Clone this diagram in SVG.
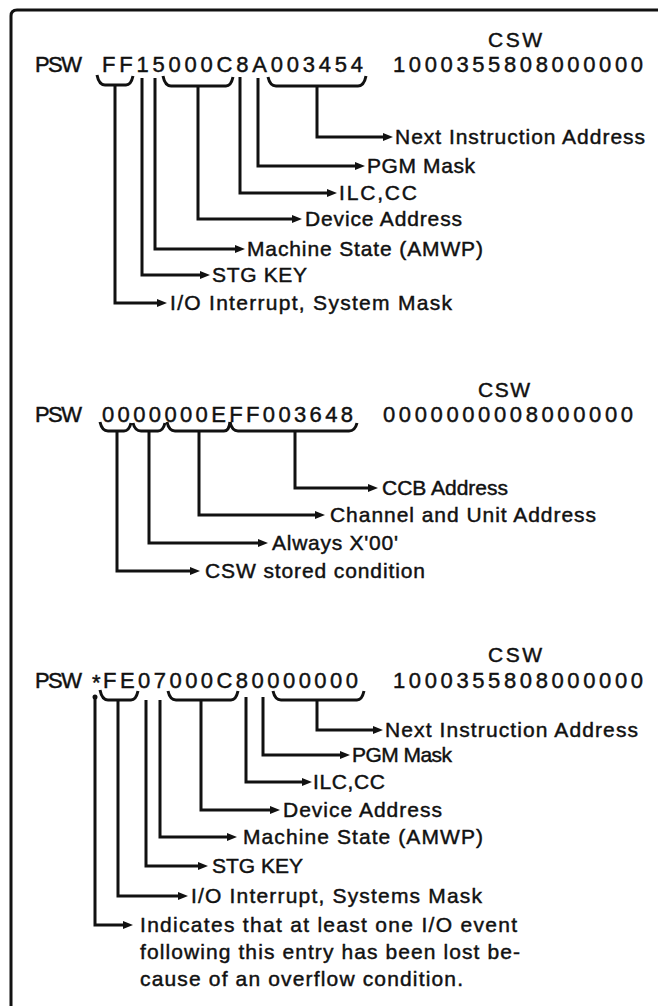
<svg xmlns="http://www.w3.org/2000/svg" width="658" height="1006" viewBox="0 0 658 1006">
<style>
text{font-family:"Liberation Sans",Arial,sans-serif;fill:#111;stroke:#111;stroke-width:0.45}
.hex{font-size:22px}
.lbl{font-size:21px}
.ln{fill:none;stroke:#111;stroke-width:3;stroke-linejoin:miter;stroke-linecap:butt}
.arr{marker-end:url(#ah)}
</style>
<defs>
<marker id="ah" markerUnits="userSpaceOnUse" markerWidth="12" markerHeight="10" viewBox="0 -5 12 10" refX="2" refY="0" orient="auto"><path d="M0,-4 L10,0 L0,4 z" fill="#111"/></marker>
</defs>
<rect width="658" height="1006" fill="#fff"/>
<path id="frame" class="ln" d="M11,1006 L11,16 Q11,10 17,10 L658,10"/>

<g id="record1">
<text class="lbl" x="488" y="47" textLength="54" lengthAdjust="spacing">CSW</text>
<text class="hex" x="35" y="72" textLength="47" lengthAdjust="spacing">PSW</text>
<text class="hex" x="102" y="72" textLength="261" lengthAdjust="spacing">FF15000C8A003454</text>
<text class="hex" x="393" y="72" textLength="250" lengthAdjust="spacing">1000355808000000</text>
</g>
<g id="r1-next"><text class="lbl" x="395" y="144" textLength="250" lengthAdjust="spacing">Next Instruction Address</text></g>
<g id="r1-pgm"><text class="lbl" x="367" y="173" textLength="108" lengthAdjust="spacing">PGM Mask</text></g>
<g id="r1-ilc"><text class="lbl" x="339" y="200" textLength="78" lengthAdjust="spacing">ILC,CC</text></g>
<g id="r1-dev"><text class="lbl" x="305" y="226" textLength="157" lengthAdjust="spacing">Device Address</text></g>
<g id="r1-mach"><text class="lbl" x="247" y="256" textLength="236" lengthAdjust="spacing">Machine State (AMWP)</text></g>
<g id="r1-stg"><text class="lbl" x="212" y="282" textLength="95" lengthAdjust="spacing">STG KEY</text></g>
<g id="r1-io"><text class="lbl" x="170" y="310" textLength="282" lengthAdjust="spacing">I/O Interrupt, System Mask</text></g>

<g id="record2">
<text class="lbl" x="478" y="397" textLength="52" lengthAdjust="spacing">CSW</text>
<text class="hex" x="35" y="422" textLength="47" lengthAdjust="spacing">PSW</text>
<text class="hex" x="102" y="422" textLength="251" lengthAdjust="spacing">0000000EFF003648</text>
<text class="hex" x="383" y="422" textLength="250" lengthAdjust="spacing">0000000008000000</text>
</g>
<g id="r2-ccb"><text class="lbl" x="382" y="495" textLength="126" lengthAdjust="spacing">CCB Address</text></g>
<g id="r2-chan"><text class="lbl" x="330" y="522" textLength="266" lengthAdjust="spacing">Channel and Unit Address</text></g>
<g id="r2-always"><text class="lbl" x="272" y="550" textLength="126" lengthAdjust="spacing">Always X'00'</text></g>
<g id="r2-csw"><text class="lbl" x="205" y="578" textLength="220" lengthAdjust="spacing">CSW stored condition</text></g>

<g id="record3">
<text class="lbl" x="488" y="662" textLength="54" lengthAdjust="spacing">CSW</text>
<text class="hex" x="35" y="688" textLength="47" lengthAdjust="spacing">PSW</text>
<text class="hex" x="92" y="690">*</text>
<text class="hex" x="103" y="688" textLength="255" lengthAdjust="spacing">FE07000C80000000</text>
<text class="hex" x="393" y="688" textLength="250" lengthAdjust="spacing">1000355808000000</text>
</g>
<g id="r3-next"><text class="lbl" x="385" y="737" textLength="253" lengthAdjust="spacing">Next Instruction Address</text></g>
<g id="r3-pgm"><text class="lbl" x="352" y="762" textLength="100" lengthAdjust="spacing">PGM Mask</text></g>
<g id="r3-ilc"><text class="lbl" x="313" y="789" textLength="72" lengthAdjust="spacing">ILC,CC</text></g>
<g id="r3-dev"><text class="lbl" x="283" y="817" textLength="159" lengthAdjust="spacing">Device Address</text></g>
<g id="r3-mach"><text class="lbl" x="243" y="844" textLength="240" lengthAdjust="spacing">Machine State (AMWP)</text></g>
<g id="r3-stg"><text class="lbl" x="212" y="873" textLength="91" lengthAdjust="spacing">STG KEY</text></g>
<g id="r3-io"><text class="lbl" x="191" y="903" textLength="291" lengthAdjust="spacing">I/O Interrupt, Systems Mask</text></g>
<g id="r3-lost">
<text class="lbl" x="140" y="932" textLength="377" lengthAdjust="spacing">Indicates that at least one I/O event</text>
<text class="lbl" x="140" y="959" textLength="380" lengthAdjust="spacing">following this entry has been lost be-</text>
<text class="lbl" x="140" y="986" textLength="323" lengthAdjust="spacing">cause of an overflow condition.</text>
</g>

<g id="connectors">
<path class="ln" d="M97,75 Q99,85 105,85 L126,85 Q131,85 133,76"/>
<path class="ln" d="M163,76 Q165,86 171,86 L226,86 Q231,86 233,77"/>
<path class="ln" d="M268,77 Q270,86 276,86 L358,86 Q364,86 366,76"/>
<polyline class="ln arr" points="115,85 115,303 159,303"/>
<polyline class="ln arr" points="142,78 142,275 202,275"/>
<polyline class="ln arr" points="155,78 155,249 237,249"/>
<polyline class="ln arr" points="198,86 198,219 294,219"/>
<polyline class="ln arr" points="240,77 240,193 329,193"/>
<polyline class="ln arr" points="258,78 258,166 357,166"/>
<polyline class="ln arr" points="317,86 317,137 385,137"/>

<path class="ln" d="M100,422 Q102,431 108,431 L124,431 Q129,431 131,423"/>
<path class="ln" d="M133,423 Q135,431 141,431 L158,431 Q163,431 165,423"/>
<path class="ln" d="M167,422 Q169,431 175,431 L224,431 Q229,431 230,422"/>
<path class="ln" d="M230,422 Q232,431 238,431 L349,431 Q355,431 357,423"/>
<polyline class="ln arr" points="117,431 117,571 192,571"/>
<polyline class="ln arr" points="149,431 149,543 260,543"/>
<polyline class="ln arr" points="199,431 199,515 317,515"/>
<polyline class="ln arr" points="295,431 295,488 370,488"/>

<path class="ln" d="M100,690 Q102,700 108,700 L131,700 Q136,700 138,691"/>
<path class="ln" d="M168,691 Q170,700 176,700 L231,700 Q236,700 238,691"/>
<path class="ln" d="M273,691 Q275,700 281,700 L357,700 Q362,700 364,691"/>
<circle cx="95" cy="697" r="2.5" fill="#111"/>
<polyline class="ln arr" points="95,697 95,925 125,925"/>
<polyline class="ln arr" points="118,700 118,896 180,896"/>
<polyline class="ln arr" points="146,700 146,866 200,866"/>
<polyline class="ln arr" points="160,700 160,837 229,837"/>
<polyline class="ln arr" points="201,700 201,810 272,810"/>
<polyline class="ln arr" points="246,697 246,782 304,782"/>
<polyline class="ln arr" points="263,697 263,755 342,755"/>
<polyline class="ln arr" points="317,700 317,730 375,730"/>
</g>
</svg>
